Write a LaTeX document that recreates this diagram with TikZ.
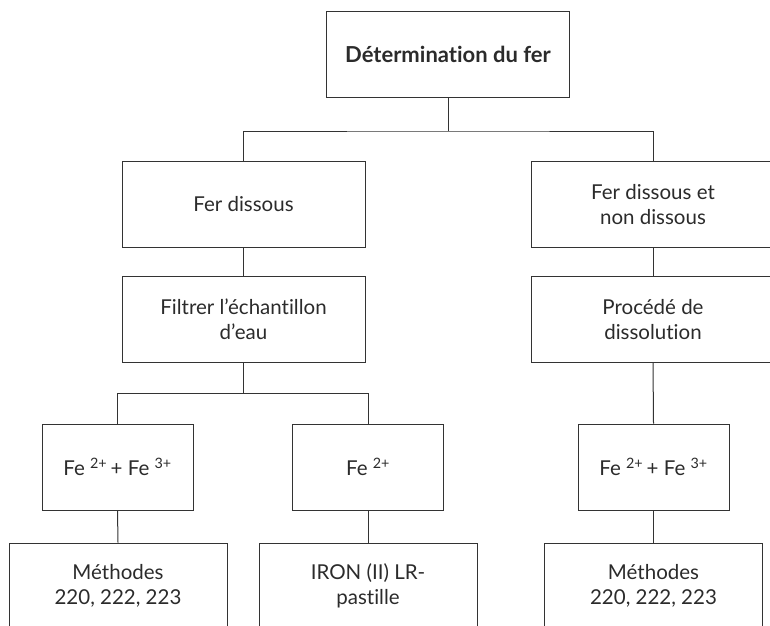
\documentclass[tikz,border=0pt]{standalone}
\usepackage{fontspec}
\setmainfont{Lato}[Ligatures={NoCommon}]
\definecolor{ln}{HTML}{333333}
\definecolor{tx}{HTML}{2B2B2B}
\begin{document}
\begin{tikzpicture}[x=1pt,y=-1pt,
  conn/.style={draw=ln, line width=1pt},
  boxbase/.style={draw=ln, line width=1pt, inner sep=0pt, align=center, text=tx,
    minimum height=86pt, font=\fontsize{20.5}{25}\selectfont},
  widebox/.style={boxbase, minimum width=243pt},
  smallbox/.style={boxbase, minimum width=151pt},
  lowbox/.style={boxbase, minimum width=218pt},
  titlebox/.style={widebox, font=\fontsize{22}{25}\selectfont\bfseries}]
\useasboundingbox (0,0) rectangle (770,625);
\clip (0,0) rectangle (770,625);

\node[titlebox] (top) at (448,54) {Détermination du fer};
\node[widebox] (fd) at (243.5,204.5) {Fer dissous};
\node[widebox] (fdn) at (653,204.5) {Fer dissous et\\non dissous};
\node[widebox] (filt) at (243.5,319.5) {Filtrer l’échantillon\\d’eau};
\node[widebox] (proc) at (653,319.5) {Procédé de\\dissolution};
\node[smallbox] (fea) at (117.5,467) {Fe \textsuperscript{2+}\,+ Fe \textsuperscript{3+}};
\node[smallbox] (feb) at (368,467) {Fe \textsuperscript{2+}};
\node[smallbox] (fec) at (653.5,467) {Fe \textsuperscript{2+}\,+ Fe \textsuperscript{3+}};
\node[lowbox] (ma) at (118,586) {Méthodes\\220, 222, 223};
\node[lowbox] (mb) at (368,586) {IRON (II) LR-\\pastille};
\node[lowbox] (mc) at (653.5,586) {Méthodes\\220, 222, 223};

\coordinate (j1) at (448,131);
\coordinate (j2) at (243.5,393);

\draw[conn] (top.south) -- (j1);
\draw[conn] (fd.north) |- (j1) -| (fdn.north);
\draw[conn] (fd.south) -- (filt.north);
\draw[conn] (fdn.south) -- (proc.north);
\draw[conn] (filt.south) -- (j2);
\draw[conn] (fea.north) |- (j2) -| (feb.north);
\draw[conn] (proc.south) -- (fec.north);
\draw[conn] (fea.south) -- (ma.north);
\draw[conn] (feb.south) -- (mb.north);
\draw[conn] (fec.south) -- (mc.north);
\end{tikzpicture}
\end{document}
